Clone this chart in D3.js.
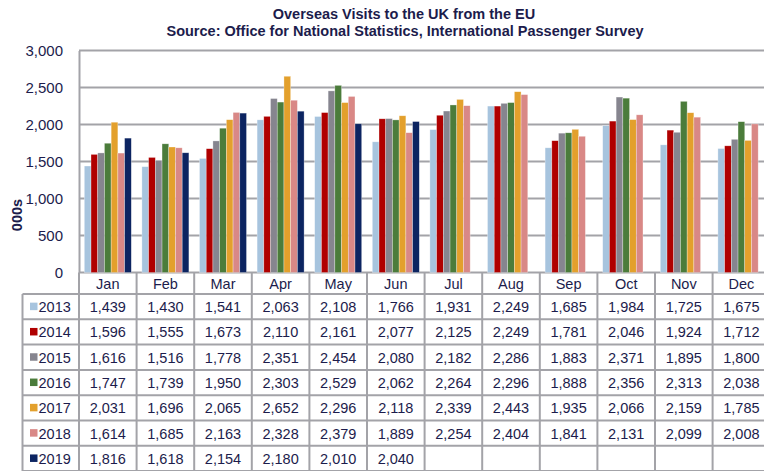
<!DOCTYPE html>
<html>
<head>
<meta charset="utf-8">
<script src="https://cdn.jsdelivr.net/npm/d3@7"></script>
<style>
  body { margin: 0; background: #fff; }
  svg { display: block; font-family: "Liberation Sans", Arial, sans-serif; }
</style>
</head>
<body>
<script>
let width = 764;
let height = 471;

let months = ["Jan", "Feb", "Mar", "Apr", "May", "Jun", "Jul", "Aug", "Sep", "Oct", "Nov", "Dec"];
let years = ["2013", "2014", "2015", "2016", "2017", "2018", "2019"];
let colors = ["#a7c4de", "#b00000", "#86858f", "#4b7c3b", "#e3a02c", "#d98886", "#0c2461"];

let v2013 = [1439, 1430, 1541, 2063, 2108, 1766, 1931, 2249, 1685, 1984, 1725, 1675];
let v2014 = [1596, 1555, 1673, 2110, 2161, 2077, 2125, 2249, 1781, 2046, 1924, 1712];
let v2015 = [1616, 1516, 1778, 2351, 2454, 2080, 2182, 2286, 1883, 2371, 1895, 1800];
let v2016 = [1747, 1739, 1950, 2303, 2529, 2062, 2264, 2296, 1888, 2356, 2313, 2038];
let v2017 = [2031, 1696, 2065, 2652, 2296, 2118, 2339, 2443, 1935, 2066, 2159, 1785];
let v2018 = [1614, 1685, 2163, 2328, 2379, 1889, 2254, 2404, 1841, 2131, 2099, 2008];
let v2019 = [1816, 1618, 2154, 2180, 2010, 2040];
let series = [v2013, v2014, v2015, v2016, v2017, v2018, v2019];

let yTicks = [0, 500, 1000, 1500, 2000, 2500, 3000];

let textColor = "#1c1c4c";
let gridColor = "#a3a3a8";

let svg = d3.select("body").append("svg")
    .attr("width", width)
    .attr("height", height);

let left = 79, colW = 57.6;
let x = d3.scaleBand()
    .domain(months)
    .range([left, left + colW * 12])
    .padding(0);
let xInner = d3.scaleBand()
    .domain(years)
    .range([5.3, colW - 5.3]);
let y = d3.scaleLinear()
    .domain([0, 3000])
    .range([272.5, 50.5]);

// Titles
svg.append("text")
    .attr("x", 404).attr("y", 19)
    .attr("text-anchor", "middle")
    .attr("font-size", 14.5).attr("font-weight", "bold")
    .attr("fill", textColor)
    .text("Overseas Visits to the UK from the EU");
svg.append("text")
    .attr("x", 405).attr("y", 36)
    .attr("text-anchor", "middle")
    .attr("font-size", 14.5).attr("font-weight", "bold")
    .attr("fill", textColor)
    .text("Source: Office for National Statistics, International Passenger Survey");

// Gridlines
svg.append("g").selectAll("line")
    .data(yTicks)
    .enter().append("line")
    .attr("x1", left).attr("x2", width)
    .attr("y1", d => y(d)).attr("y2", d => y(d))
    .attr("stroke", gridColor).attr("stroke-width", 2);

// Y axis
let yAxis = svg.append("g")
    .attr("transform", "translate(" + left + ",0)")
    .call(d3.axisLeft(y).tickValues(yTicks).tickSize(0).tickPadding(16).tickFormat(d3.format(",")));
yAxis.select(".domain").attr("stroke", gridColor).attr("stroke-width", 2);
yAxis.selectAll("text")
    .attr("font-size", 15)
    .attr("font-family", "\"Liberation Sans\", Arial, sans-serif")
    .attr("fill", textColor);

svg.append("text")
    .attr("transform", "translate(22,215) rotate(-90)")
    .attr("text-anchor", "middle")
    .attr("font-size", 14.5).attr("font-weight", "bold")
    .attr("fill", textColor)
    .text("000s");

// Bars
series.forEach(function (vals, i) {
    svg.append("g").selectAll("rect")
        .data(vals)
        .enter().append("rect")
        .attr("x", (d, j) => x(months[j]) + xInner(years[i]))
        .attr("width", xInner.bandwidth())
        .attr("y", d => y(d))
        .attr("height", d => y(0) - y(d))
        .attr("fill", colors[i])
        .attr("stroke", "#ffffff")
        .attr("stroke-opacity", 0.5)
        .attr("stroke-width", 0.6);
});

// Table
let headTop = 272.5, headH = 21.5, rowH = 25.3;
let tableTop = headTop + headH;
let labelLeft = 22.5;
let tg = svg.append("g");

// header row (month names)
tg.selectAll(".mhead")
    .data(months)
    .enter().append("text")
    .attr("class", "mhead")
    .attr("x", d => x(d) + colW / 2)
    .attr("y", headTop + 16)
    .attr("text-anchor", "middle")
    .attr("font-size", 14.5)
    .attr("fill", textColor)
    .text(d => d);

// horizontal table lines
let rowLines = d3.range(years.length + 1).map(k => tableTop + k * rowH);
tg.selectAll(".hline")
    .data(rowLines)
    .enter().append("line")
    .attr("x1", labelLeft).attr("x2", width)
    .attr("y1", d => d).attr("y2", d => d)
    .attr("stroke", gridColor).attr("stroke-width", 2);

// vertical table lines
let colLines = months.map(m => x(m)).concat([left + colW * 12]);
tg.selectAll(".vline")
    .data(colLines)
    .enter().append("line")
    .attr("x1", d => d).attr("x2", d => d)
    .attr("y1", headTop).attr("y2", height)
    .attr("stroke", gridColor).attr("stroke-width", 2);
tg.append("line")
    .attr("x1", labelLeft).attr("x2", labelLeft)
    .attr("y1", tableTop).attr("y2", height)
    .attr("stroke", gridColor).attr("stroke-width", 2);

// legend keys + values
years.forEach(function (yr, i) {
    let cy = tableTop + i * rowH + rowH / 2;
    tg.append("rect")
        .attr("x", 30).attr("y", cy - 4)
        .attr("width", 7.5).attr("height", 7.5)
        .attr("fill", colors[i]);
    tg.append("text")
        .attr("x", 38.5).attr("y", cy + 5.5)
        .attr("font-size", 14.5)
        .attr("fill", textColor)
        .text(yr);
    tg.selectAll(".val" + i)
        .data(series[i])
        .enter().append("text")
        .attr("x", (d, j) => x(months[j]) + colW / 2)
        .attr("y", cy + 5.5)
        .attr("text-anchor", "middle")
        .attr("font-size", 14.5)
        .attr("fill", textColor)
        .text(d => d3.format(",")(d));
});
</script>
</body>
</html>
